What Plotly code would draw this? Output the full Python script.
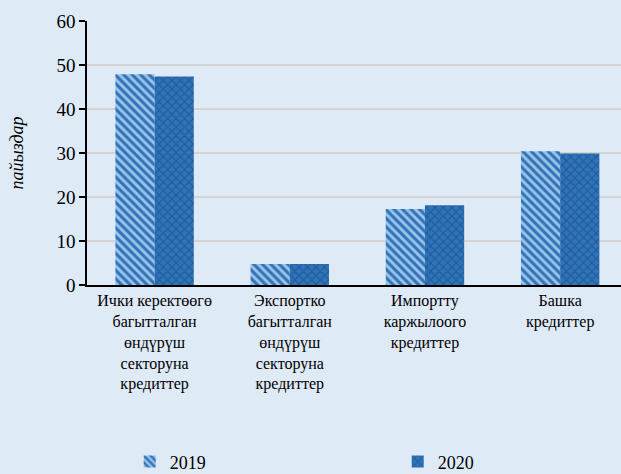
import plotly.graph_objects as go

# Loan portfolio structure by purpose, percent
categories = [
    "Ички керектөөгө<br>багытталган<br>өндүрүш<br>секторуна<br>кредиттер",
    "Экспортко<br>багытталган<br>өндүрүш<br>секторуна<br>кредиттер",
    "Импортту<br>каржылоого<br>кредиттер",
    "Башка<br>кредиттер",
]
series_names = ["2019", "2020"]
values_2019 = [47.9, 4.8, 17.3, 30.4]
values_2020 = [47.4, 4.8, 18.1, 29.9]
y_ticks = [0, 10, 20, 30, 40, 50, 60]

BG = "#deeaf6"
SERIF = "Liberation Serif"

fig = go.Figure()
fig.add_trace(go.Bar(
    x=categories, y=values_2019, name=series_names[0],
    marker=dict(
        color="#9cc2e8",
        line=dict(width=0),
        pattern=dict(shape="\\", fgcolor="#2e74b8", bgcolor="#9cc2e8",
                     size=6, solidity=0.5, fillmode="replace"),
    ),
))
fig.add_trace(go.Bar(
    x=categories, y=values_2020, name=series_names[1],
    marker=dict(
        color="#2e74b8",
        line=dict(width=0),
        pattern=dict(shape="x", fgcolor="#22599a", bgcolor="#2e74b8",
                     size=6, solidity=0.35, fillmode="replace"),
    ),
))

fig.update_layout(
    template="none",
    width=621, height=474,
    margin=dict(l=87, r=0, t=21, b=189, autoexpand=False),
    paper_bgcolor=BG, plot_bgcolor=BG,
    barmode="group", bargap=0.42, bargroupgap=0,
    font=dict(family=SERIF, size=16, color="#000000"),
    showlegend=True,
    legend=dict(
        orientation="h", x=0.08, xanchor="left", y=-0.67, yanchor="middle",
        font=dict(family=SERIF, size=18, color="#000000"),
        entrywidth=223, entrywidthmode="pixels",
        bgcolor="rgba(0,0,0,0)", itemwidth=30,
    ),
)
fig.update_xaxes(
    range=[-0.5, 3.45],
    showline=True, linecolor="#000000", linewidth=2,
    ticks="", showgrid=False,
    tickfont=dict(family=SERIF, size=16, color="#000000"),
    tickangle=0,
)
fig.update_yaxes(
    range=[0, 60], tickvals=y_ticks,
    showline=True, linecolor="#000000", linewidth=1.5,
    ticks="outside", ticklen=6, tickcolor="#000000", tickwidth=1.5,
    showgrid=True, gridcolor="#d4d4d4", gridwidth=1.5,
    zeroline=False,
    tickfont=dict(family=SERIF, size=19, color="#000000"),
    title=dict(text="<i>пайыздар</i>", font=dict(family=SERIF, size=18, color="#000000"),
               standoff=28),
)

fig.write_html("out.html")
